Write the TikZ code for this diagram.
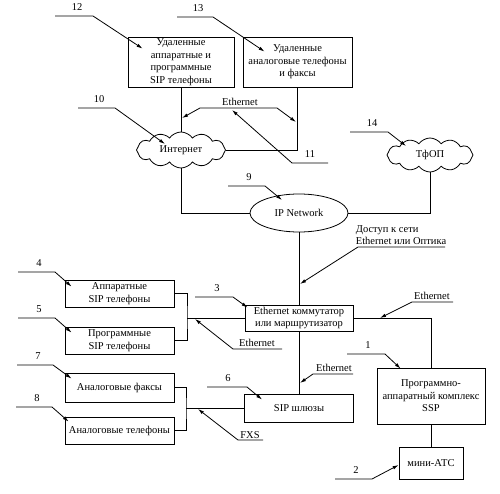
\documentclass[tikz,border=0pt]{standalone}
\usepackage{fontspec}
\setmainfont{Liberation Serif}
\usetikzlibrary{positioning,shapes.geometric,shapes.symbols,arrows.meta,calc}

\begin{document}
\begin{tikzpicture}[x=1pt, y=-1pt, >={Latex[length=6pt,width=3.5pt]}, line width=0.8pt,
  every node/.style={font=\fontsize{10.5}{12.5}\selectfont},
  box/.style={draw, rectangle, align=center, inner sep=1pt},
  cloudy/.style={draw, cloud, cloud puffs=12, cloud puff arc=110, cloud ignores aspect, inner sep=0pt},
  num/.style={anchor=south, inner xsep=0pt, inner ysep=5pt},
  tag/.style={anchor=south, inner xsep=0pt, inner ysep=1.5pt, align=center}]
  \useasboundingbox (0,0) rectangle (500,494);

  % remote side
  \node[box, minimum width=106pt, minimum height=50pt] (remSip) at (181,62) {Удаленные\\аппаратные и\\программные\\SIP телефоны};
  \node[box, minimum width=109pt, minimum height=50pt] (remAn) at (297.5,62) {Удаленные\\аналоговые телефоны\\и факсы};
  \node[cloudy, minimum width=89pt, minimum height=36pt] (inet) at (181,150) {Интернет};
  \node[cloudy, minimum width=86pt, minimum height=34pt] (pstn) at (430,155) {ТфОП};
  \node[draw, ellipse, minimum width=98pt, minimum height=38pt] (ipnet) at (299,213) {IP Network};

  % local side
  \node[box, minimum width=108pt, minimum height=26pt] (switch) at (299,318) {Ethernet коммутатор\\или маршрутизатор};
  \node[box, minimum width=109pt, minimum height=28pt] (sipgw) at (299,408) {SIP шлюзы};
  \node[box, minimum width=108pt, minimum height=56pt] (ssp) at (431,396) {Программно-\\аппаратный комплекс\\SSP};
  \node[box, minimum width=64pt, minimum height=32pt] (miniats) at (431,463) {мини-АТС};
  \node[box, minimum width=109pt, minimum height=27pt] (hwSip) at (119.5,293.5) {Аппаратные\\SIP телефоны};
  \node[box, minimum width=109pt, minimum height=27pt] (swSip) at (119.5,340.5) {Программные\\SIP телефоны};
  \node[box, minimum width=109pt, minimum height=29pt] (anFax) at (119.5,387.5) {Аналоговые факсы};
  \node[box, minimum width=109pt, minimum height=27pt] (anTel) at (119.5,430.5) {Аналоговые телефоны};

  % links
  \draw (remSip) -- (inet);
  \draw (remAn.south) |- (inet.east);
  \draw (inet.south) |- (ipnet.west);
  \draw (pstn.south) |- (ipnet.east);
  \draw (ipnet) -- (switch);
  \draw (switch) -- (sipgw);
  \draw (switch.east) -| (ssp.north);
  \draw (ssp) -- (miniats);
  \coordinate (jPh) at (187,318);
  \draw (hwSip.east) -| (jPh) |- (swSip.east);
  \draw (jPh) -- (switch.west);
  \coordinate (jAn) at (186,408);
  \draw (anFax.east) -| (jAn) |- (anTel.east);
  \draw (jAn) -- (sipgw.west);

  % link labels
  \node[tag] (ethTop) at (240,108) {Ethernet};
  \coordinate (tE12) at (182,118);
  \coordinate (tE13) at (296,122);
  \draw[<->] (tE12) -- ([xshift=-40pt]ethTop.south) -- ([xshift=37pt]ethTop.south) -- (tE13);

  \node[tag, align=left] (access) at (401,247) {Доступ к сети\\Ethernet или Оптика};
  \coordinate (tAcc) at (300,284);
  \draw[->] ([xshift=44pt]access.south) -- ([xshift=-43pt]access.south) -- (tAcc);

  \node[tag] (ethR) at (432,302) {Ethernet};
  \coordinate (tEthR) at (380,318);
  \draw[->] ([xshift=21pt]ethR.south) -- ([xshift=-20pt]ethR.south) -- (tEthR);

  \node[tag] (ethL) at (257,349) {Ethernet};
  \coordinate (tEthL) at (195,319);
  \draw[->] ([xshift=25pt]ethL.south) -- ([xshift=-24pt]ethL.south) -- (tEthL);

  \node[tag] (ethS) at (334,374) {Ethernet};
  \coordinate (tEthS) at (300,383);
  \draw[->] ([xshift=19pt]ethS.south) -- ([xshift=-21pt]ethS.south) -- (tEthS);

  \node[tag] (fxs) at (250,440) {FXS};
  \coordinate (tFxs) at (198,409);
  \draw[->] ([xshift=13pt]fxs.south) -- ([xshift=-12pt]fxs.south) -- (tFxs);

  % reference numbers
  \node[num] (n11) at (310,163) {11};
  \coordinate (t11) at (232,110);
  \draw[->] ([xshift=18pt]n11.south) -- ([xshift=-18pt]n11.south) -- (t11);

  \node[num] (n12) at (77,16) {12};
  \draw[->] ([xshift=-22pt]n12.south) -- ([xshift=16pt]n12.south) -- ($(remSip.north west)+(15,12)$);
  \node[num] (n13) at (198,17) {13};
  \draw[->] ([xshift=-21pt]n13.south) -- ([xshift=15pt]n13.south) -- ($(remAn.north west)+(22,15)$);
  \node[num] (n10) at (99,108) {10};
  \draw[->] ([xshift=-21pt]n10.south) -- ([xshift=16pt]n10.south) -- ($(inet)+(-16,-6)$);
  \node[num] (n14) at (372,132) {14};
  \draw[->] ([xshift=-22pt]n14.south) -- ([xshift=16pt]n14.south) -- ($(pstn)+(-24,-9)$);
  \node[num] (n9) at (249,186) {9};
  \draw[->] ([xshift=-21pt]n9.south) -- ([xshift=16pt]n9.south) -- ($(ipnet)+(-17,-13)$);
  \node[num] (n3) at (217,297) {3};
  \draw[->] ([xshift=-22pt]n3.south) -- ([xshift=16pt]n3.south) -- ($(switch.north west)+(3,3)$);
  \node[num] (n4) at (39,272) {4};
  \draw[->] ([xshift=-21pt]n4.south) -- ([xshift=16pt]n4.south) -- ($(hwSip.north west)+(7,7)$);
  \node[num] (n5) at (39,318) {5};
  \draw[->] ([xshift=-21pt]n5.south) -- ([xshift=16pt]n5.south) -- ($(swSip.north west)+(7,6)$);
  \node[num] (n7) at (38,365) {7};
  \draw[->] ([xshift=-21pt]n7.south) -- ([xshift=15pt]n7.south) -- ($(anFax.north west)+(7,6)$);
  \node[num] (n8) at (37,407) {8};
  \draw[->] ([xshift=-21pt]n8.south) -- ([xshift=15pt]n8.south) -- ($(anTel.north west)+(4,5)$);
  \node[num] (n6) at (228,387) {6};
  \draw[->] ([xshift=-21pt]n6.south) -- ([xshift=19pt]n6.south) -- ($(sipgw.north west)+(18,6)$);
  \node[num] (n1) at (368,354) {1};
  \draw[->] ([xshift=-21pt]n1.south) -- ([xshift=17pt]n1.south) -- ($(ssp.north west)+(24,1)$);
  \node[num] (n2) at (356,479) {2};
  \draw[->] ([xshift=-21pt]n2.south) -- ([xshift=16pt]n2.south) -- ($(miniats.west)+(0,2)$);
\end{tikzpicture}
\end{document}
